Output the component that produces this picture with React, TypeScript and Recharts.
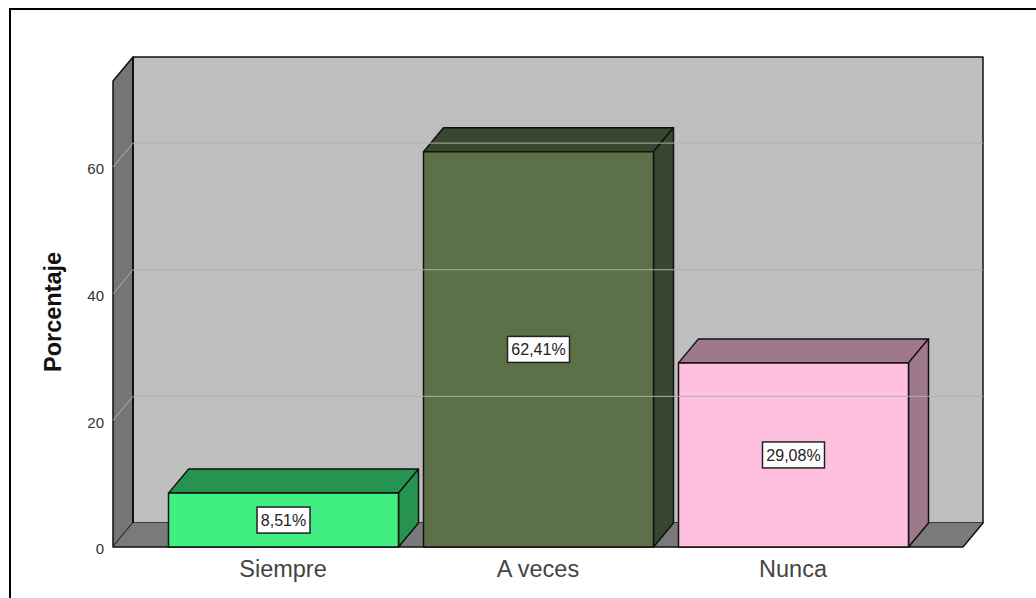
import { Bar, BarChart, LabelList, ReferenceArea, ReferenceLine, XAxis, YAxis } from "recharts";

const categories = ["Siempre", "A veces", "Nunca"];
const percentages = [8.51, 62.41, 29.08];
const percentLabels = ["8,51%", "62,41%", "29,08%"];
const yTicks = [0, 20, 40, 60];

const frontColors = ["#41ee80", "#5c7148", "#ffc0e0"];
const shadeColors = ["#269350", "#394730", "#9f788b"];

const data = categories.map((name, i) => ({ name, value: percentages[i], label: percentLabels[i] }));

// oblique offset of the fake 3D box
const DX = 20;
const DY = 24;
// category axis padding, the reference area only spans the padded range
const PAD = 42.5;
const FONT = "'Liberation Sans', Arial, sans-serif";

function Box3D(props: any) {
  const { x, y, width, height, index } = props;
  const r = x + width;
  const b = y + height;
  const shade = shadeColors[index];
  return (
    <g stroke="#111" strokeWidth={1.5} strokeLinejoin="round">
      <path d={`M${x} ${y}L${x + DX} ${y - DY}L${r + DX} ${y - DY}L${r} ${y}Z`} fill={shade} />
      <path d={`M${r} ${y}L${r + DX} ${y - DY}L${r + DX} ${b - DY}L${r} ${b}Z`} fill={shade} />
      <rect x={x} y={y} width={width} height={height} fill={frontColors[index]} />
    </g>
  );
}

function Walls(props: any) {
  const { y, height } = props;
  const x = props.x - PAD;
  const r = props.x + props.width + PAD;
  const b = y + height;
  return (
    <g stroke="#111" strokeWidth={1.5} strokeLinejoin="round">
      <rect x={x + DX} y={y - DY} width={r - x} height={height} fill="#bebebe" />
      <path d={`M${x} ${b}L${x} ${y}L${x + DX} ${y - DY}L${x + DX} ${b - DY}Z`} fill="#757575" />
      <path d={`M${x} ${b}L${x + DX} ${b - DY}L${r + DX} ${b - DY}L${r} ${b}Z`} fill="#7a7a7a" stroke="none" />
      <path d={`M${x} ${b}L${r} ${b}L${r + DX} ${b - DY}`} fill="none" />
      <path d={`M${x + DX} ${b - DY}L${x + DX} ${y - DY}`} fill="none" strokeWidth={2} />
    </g>
  );
}

function GridLine(props: any) {
  const { x1, y1, x2, y2 } = props;
  return (
    <path
      d={`M${x1} ${y1}L${x1 + DX} ${y1 - DY}L${x2 + DX} ${y2 - DY}`}
      fill="none"
      stroke="#afafaf"
      strokeWidth={1}
    />
  );
}

function ValueTag(props: any) {
  const { x, y, width, height, value } = props;
  const cx = x + width / 2;
  const cy = y + height / 2;
  const w = value.length * 9 + 8;
  return (
    <g>
      <rect x={cx - w / 2} y={cy - 13} width={w} height={26} fill="#fff" stroke="#222" strokeWidth={1.5} />
      <text x={cx} y={cy + 6} textAnchor="middle" fontFamily={FONT} fontSize={16} fill="#222">
        {value}
      </text>
    </g>
  );
}

export default function App() {
  return (
    <div style={{ position: "absolute", left: 0, top: 0, width: 1036, height: 598, background: "#fff" }}>
      <div
        style={{
          position: "absolute",
          left: 9,
          top: 8,
          width: 1027,
          height: 590,
          borderLeft: "2px solid #000",
          borderTop: "2px solid #000",
          boxSizing: "border-box",
        }}
      />
      <div style={{ position: "absolute", left: 0, top: 0 }}>
        <BarChart
          width={1036}
          height={598}
          data={data}
          margin={{ top: 81, right: 73, bottom: 0, left: 0 }}
          barSize={230}
        >
          <ReferenceArea y1={0} y2={73.6} shape={<Walls />} ifOverflow="visible" />
          {yTicks.slice(1).map((t) => (
            <ReferenceLine key={t} y={t} shape={<GridLine />} />
          ))}
          <XAxis
            dataKey="name"
            axisLine={false}
            tickLine={false}
            height={51}
            padding={{ left: PAD, right: PAD }}
            tick={{ fontFamily: FONT, fontSize: 23.5, fill: "#444" }}
            tickMargin={7}
            interval={0}
          />
          <YAxis
            type="number"
            domain={[0, 73.6]}
            ticks={yTicks}
            axisLine={false}
            tickLine={false}
            width={113}
            tickMargin={3}
            tick={{ fontFamily: FONT, fontSize: 15, fill: "#333", dy: 2 }}
            label={{
              value: "Porcentaje",
              angle: -90,
              position: "insideLeft",
              offset: 0,
              dx: 53,
              dy: 58,
              style: { fontFamily: FONT, fontSize: 23.5, fontWeight: 700, fill: "#111" },
            }}
          />
          <Bar dataKey="value" shape={<Box3D />} isAnimationActive={false}>
            <LabelList dataKey="label" content={<ValueTag />} />
          </Bar>
        </BarChart>
      </div>
    </div>
  );
}
